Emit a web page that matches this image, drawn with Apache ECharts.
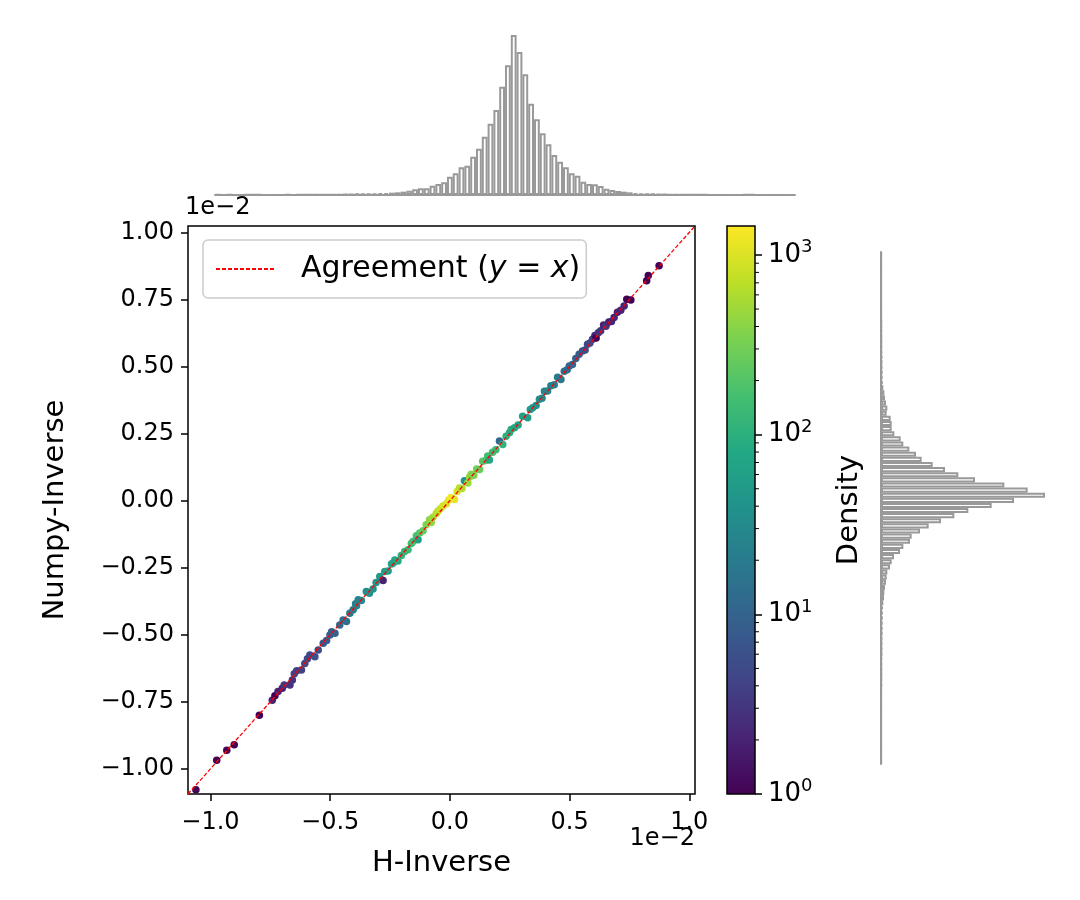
<!DOCTYPE html>
<html>
<head>
<meta charset="utf-8">
<script src="https://cdn.jsdelivr.net/npm/echarts@6/dist/echarts.min.js"></script>
<style>html,body{margin:0;padding:0;background:#fff}#c{width:1080px;height:900px}</style>
</head>
<body>
<div id="c"></div>
<script>
// ---------- data (values in units of 1e-2) ----------
const axisLimits = [-1.094, 1.024];
const xTicks = [-1.0, -0.5, 0.0, 0.5, 1.0];
const yTicks = [-1.0, -0.75, -0.5, -0.25, 0.0, 0.25, 0.5, 0.75, 1.0];
const lineEnds = [-1.094, 1.024];

const ptX = [-1.061,-0.974,-0.932,-0.901,-0.796,-0.742,-0.731,-0.718,-0.700,-0.692,-0.668,-0.658,-0.650,-0.640,-0.620,-0.606,-0.595,-0.585,-0.564,-0.550,-0.529,-0.515,-0.501,-0.494,-0.480,-0.460,-0.446,-0.432,-0.418,-0.404,-0.394,-0.383,-0.390,-0.370,-0.349,-0.336,-0.321,-0.308,-0.293,-0.279,-0.272,-0.258,-0.244,-0.237,-0.230,-0.217,-0.203,-0.189,-0.175,-0.161,-0.154,-0.140,-0.133,-0.126,-0.112,-0.099,-0.085,-0.078,-0.071,-0.057,-0.050,-0.040,-0.029,-0.015,-0.005,0.005,0.019,0.030,0.040,0.050,0.061,0.075,0.082,0.089,0.100,0.112,0.124,0.137,0.150,0.158,0.165,0.178,0.192,0.207,0.221,0.235,0.249,0.256,0.270,0.285,0.304,0.325,0.336,0.346,0.360,0.374,0.385,0.395,0.408,0.422,0.436,0.450,0.464,0.478,0.490,0.499,0.512,0.526,0.540,0.554,0.565,0.575,0.585,0.596,0.606,0.611,0.620,0.630,0.642,0.652,0.664,0.675,0.686,0.700,0.714,0.728,0.739,0.756,0.822,0.829,0.874];
const ptY = [-1.078,-0.968,-0.931,-0.910,-0.800,-0.744,-0.728,-0.712,-0.700,-0.688,-0.688,-0.669,-0.646,-0.634,-0.632,-0.607,-0.590,-0.576,-0.582,-0.557,-0.532,-0.522,-0.501,-0.489,-0.495,-0.464,-0.445,-0.451,-0.420,-0.407,-0.385,-0.370,-0.392,-0.372,-0.339,-0.345,-0.330,-0.305,-0.283,-0.298,-0.264,-0.262,-0.236,-0.233,-0.221,-0.225,-0.205,-0.190,-0.183,-0.160,-0.152,-0.131,-0.146,-0.121,-0.112,-0.090,-0.071,-0.082,-0.062,-0.048,-0.040,-0.030,-0.020,-0.012,0.002,0.012,0.004,0.034,0.047,0.045,0.074,0.066,0.088,0.098,0.095,0.118,0.116,0.147,0.150,0.166,0.151,0.180,0.190,0.222,0.209,0.240,0.253,0.265,0.272,0.282,0.315,0.309,0.340,0.346,0.355,0.378,0.382,0.408,0.409,0.428,0.432,0.460,0.452,0.482,0.488,0.502,0.508,0.530,0.546,0.558,0.562,0.583,0.588,0.602,0.616,0.606,0.626,0.633,0.655,0.650,0.666,0.668,0.683,0.702,0.710,0.726,0.751,0.748,0.820,0.839,0.876];
const ptDensity = [1,1,1,1,1,2,1,2,2,3,3,3,4,4,4,5,5,5,6,6,7,8,9,9,10,12,14,15,18,20,22,25,24,28,35,38,40,45,50,2,55,60,65,70,75,85,100,120,130,150,160,180,60,200,250,350,400,450,500,650,700,800,900,1000,1200,1300,1100,900,700,600,40,500,450,400,350,300,260,220,190,160,80,140,130,12,110,100,90,85,80,70,60,55,50,45,40,35,30,28,26,24,22,20,18,15,14,12,11,10,8,7,6,5,5,4,2,1,3,3,2,3,2,2,2,2,2,2,1,1,1,1,1];

const topHistCounts = [1,0,1,0,0,1,1,1,0,0,0,0,1,0,1,1,1,1,2,2,2,2,3,3,4,
  5,5,5,6,6,7,8,10,13,17,20,20,28,33,38,55,65,83,88,115,139,175,214,255,325,389,480,429,362,274,227,185,152,120,100,83,65,58,40,33,32,27,19,15,12,10,8,6,5,4,4,3,3,2,2,2,
  1,1,1,1,0,0,0,0,0,0,1,1,0,0,0,0,0,0,0];
// bottom (lowest value) to top
const rightHistCounts = [1,1,1,1,1,1,1,1,1,1,1,1,1,1,1,2,2,2,2,2,2,3,3,3,3,4,4,4,5,5,6,7,
  9,10,12,15,17,19,27,32,39,57,67,87,92,117,143,180,220,262,332,399,492,440,370,282,232,192,155,122,105,85,67,59,40,32,32,29,17,19,15,12,10,7,
  5,4,4,3,3,3,2,2,2,2,2,2,2,1,1,1,1,1,1,1,1,1,1,1,1,1];

const cbMax = 1450;
const cbMajorExponents = [0, 1, 2, 3];
const cbMinorValues = [2,3,4,5,6,7,8,9,20,30,40,50,60,70,80,90,200,300,400,500,600,700,800,900];
const viridis = ['#440154','#482475','#414487','#355f8d','#2a788e','#21918c','#22a884','#44bf70','#7ad151','#bddf26','#fde725'];

// ---------- chart ----------
const FONT = 'DejaVu Sans';
const MINUS = '\u2212';
const fmt = (v, d) => (v < 0 ? MINUS : '') + Math.abs(v).toFixed(d);

const scatterData = ptX.map((x, i) => [x, ptY[i], Math.log10(ptDensity[i])]);
const lineData = [[lineEnds[0], lineEnds[0]], [lineEnds[1], lineEnds[1]]];
const cbLogMax = Math.log10(cbMax);
const histBarStyle = { color: 'rgba(255,255,255,0)', borderColor: '#999999', borderWidth: 2 };
const TICK = 24, NAME = 29;

const chart = echarts.init(document.getElementById('c'), null, { renderer: 'canvas' });
chart.setOption({
  animation: false,
  backgroundColor: '#fff',
  textStyle: { fontFamily: FONT },
  grid: [
    { left: 188, top: 226, width: 507, height: 568, show: true, borderColor: '#000', borderWidth: 1.5, backgroundColor: '#fff' },
    { left: 215, top: 35, width: 580, height: 160 },
    { left: 881, top: 252, width: 164, height: 512 },
    { left: 727, top: 226, width: 28, height: 568, show: true, borderColor: '#000', borderWidth: 1.5,
      backgroundColor: { type: 'linear', x: 0, y: 1, x2: 0, y2: 0,
        colorStops: viridis.map((c, i) => ({ offset: i / (viridis.length - 1), color: c })) } }
  ],
  xAxis: [
    { gridIndex: 0, type: 'value', position: 'bottom', min: axisLimits[0], max: axisLimits[1],
      axisLine: { show: false, onZero: false }, splitLine: { show: false },
      axisTick: { show: true, length: 7, lineStyle: { color: '#000', width: 1.5 }, customValues: xTicks },
      axisLabel: { customValues: xTicks, formatter: v => fmt(v, 1), fontSize: TICK, color: '#000', fontFamily: FONT, margin: 17 },
      name: 'H-Inverse', nameLocation: 'middle', nameGap: 55,
      nameTextStyle: { fontSize: NAME, color: '#000', fontFamily: FONT } },
    { gridIndex: 1, type: 'category', data: topHistCounts.map((_, i) => i), boundaryGap: true,
      axisLine: { show: true, lineStyle: { color: '#999999', width: 2 } }, axisTick: { show: false }, axisLabel: { show: false } },
    { gridIndex: 2, type: 'value', min: 0, max: 492, show: false },
    { gridIndex: 3, type: 'value', min: 0, max: 1, show: false }
  ],
  yAxis: [
    { gridIndex: 0, type: 'value', position: 'left', min: axisLimits[0], max: axisLimits[1],
      axisLine: { show: false, onZero: false }, splitLine: { show: false },
      axisTick: { show: true, length: 7, lineStyle: { color: '#000', width: 1.5 }, customValues: yTicks },
      axisLabel: { customValues: yTicks, formatter: v => fmt(v, 2), fontSize: TICK, color: '#000', fontFamily: FONT, margin: 14 },
      name: 'Numpy-Inverse', nameLocation: 'middle', nameGap: 118, nameRotate: 90,
      nameTextStyle: { fontSize: NAME, color: '#000', fontFamily: FONT } },
    { gridIndex: 1, type: 'value', min: 0, max: 480, show: false },
    { gridIndex: 2, type: 'category', data: rightHistCounts.map((_, i) => i), boundaryGap: true,
      axisLine: { show: true, onZero: false, lineStyle: { color: '#999999', width: 2 } }, axisTick: { show: false }, axisLabel: { show: false } },
    { gridIndex: 3, type: 'value', position: 'right', min: 0, max: cbLogMax,
      axisLine: { show: false, onZero: false }, splitLine: { show: false },
      axisTick: { show: true, length: 7, lineStyle: { color: '#000', width: 1.5 }, customValues: cbMajorExponents },
      axisLabel: { customValues: cbMajorExponents, margin: 13, color: '#000',
        formatter: v => '{b|10}{s|' + v + '}',
        rich: { b: { fontSize: 26, fontFamily: FONT, color: '#000' },
                s: { fontSize: 18, fontFamily: FONT, color: '#000', padding: [0, 0, 15, 0] } } },
      name: 'Density', nameLocation: 'middle', nameGap: 80, nameRotate: 90,
      nameTextStyle: { fontSize: NAME, color: '#000', fontFamily: FONT } }
  ],
  visualMap: {
    show: false, type: 'continuous', seriesIndex: 0, dimension: 2, min: 0, max: cbLogMax,
    inRange: { color: viridis }
  },
  legend: {
    left: 203, top: 240, orient: 'vertical',
    data: ['Agreement (y = x)'],
    itemWidth: 60, itemHeight: 14,
    itemStyle: { opacity: 0 },
    padding: [14, 6, 14, 12],
    backgroundColor: 'rgba(255,255,255,0.8)', borderColor: '#cccccc', borderWidth: 1.5, borderRadius: 5,
    formatter: () => '{pad|}Agreement ({it|y} = {it|x})',
    textStyle: { fontSize: 30, color: '#000', fontFamily: FONT,
      rich: { pad: { width: 20 }, it: { fontStyle: 'italic', fontSize: 30, fontFamily: FONT, color: '#000' } } }
  },
  graphic: [
    { type: 'text', left: 185, top: 196, style: { text: '1e' + MINUS + '2', fontSize: TICK, fontFamily: FONT, fill: '#000' } },
    { type: 'text', right: 385, top: 827, style: { text: '1e' + MINUS + '2', fontSize: TICK, fontFamily: FONT, fill: '#000' } }
  ],
  series: [
    { type: 'scatter', xAxisIndex: 0, yAxisIndex: 0, data: scatterData, symbolSize: 7.5, z: 2,
      itemStyle: { opacity: 1 } },
    { type: 'line', name: 'Agreement (y = x)', xAxisIndex: 0, yAxisIndex: 0, data: lineData,
      symbol: 'none', z: 3, lineStyle: { color: '#ff0000', width: 1.3, type: [4, 2] }, itemStyle: { color: '#ff0000' } },
    { type: 'bar', xAxisIndex: 1, yAxisIndex: 1, data: topHistCounts, barCategoryGap: '0%', itemStyle: histBarStyle, silent: true },
    { type: 'bar', xAxisIndex: 2, yAxisIndex: 2, data: rightHistCounts, barCategoryGap: '0%', itemStyle: histBarStyle, silent: true },
    { type: 'custom', xAxisIndex: 3, yAxisIndex: 3, data: cbMinorValues.map(v => [1, Math.log10(v)]), silent: true,
      renderItem: (params, api) => {
        const p = api.coord([api.value(0), api.value(1)]);
        return { type: 'line', shape: { x1: p[0], y1: p[1], x2: p[0] + 4, y2: p[1] },
                 style: { stroke: '#000', lineWidth: 1 } };
      } }
  ]
});
</script>
</body>
</html>
